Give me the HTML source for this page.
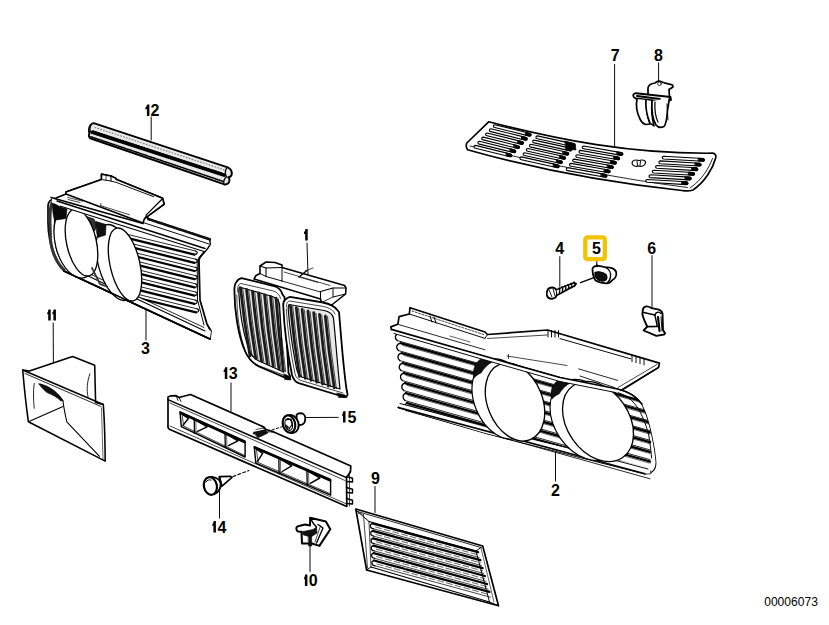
<!DOCTYPE html>
<html><head><meta charset="utf-8"><style>
html,body{margin:0;padding:0;background:#fff;width:829px;height:625px;overflow:hidden}
svg{display:block}
text{font-family:"Liberation Sans",sans-serif}
</style></head><body>
<svg width="829" height="625" viewBox="0 0 829 625" stroke="#000" fill="none" stroke-linecap="round" stroke-linejoin="round">
<path d="M149.40,104.50 L149.40,116.10 L146.90,116.10 L146.90,108.80 C146.40,109.20 146.00,109.50 145.40,109.50 L145.40,107.50 C146.40,107.10 146.70,105.90 147.20,104.50 Z" fill="#000" stroke="none"/>
<text x="150.55" y="116.05" font-size="16" font-weight="bold" stroke="none" fill="#000">2</text>
<line x1="151.2" y1="117.0" x2="151.2" y2="140.0" stroke-width="0.96" />
<text x="141" y="353.95" font-size="16" font-weight="bold" stroke="none" fill="#000">3</text>
<line x1="146.0" y1="309.0" x2="146.0" y2="340.0" stroke-width="0.96" />
<path d="M50.70,309.40 L50.70,320.60 L48.20,320.60 L48.20,313.70 C47.70,314.10 47.90,314.40 47.30,314.40 L47.30,312.40 C48.30,312.00 48.00,310.80 48.50,309.40 Z" fill="#000" stroke="none"/>
<path d="M55.90,309.40 L55.90,320.60 L53.40,320.60 L53.40,313.70 C52.90,314.10 53.00,314.40 52.40,314.40 L52.40,312.40 C53.40,312.00 53.20,310.80 53.70,309.40 Z" fill="#000" stroke="none"/>
<line x1="53.2" y1="323.0" x2="53.4" y2="362.0" stroke-width="0.96" />
<path d="M307.70,229.10 L307.70,240.50 L305.20,240.50 L305.20,233.40 C304.70,233.80 304.60,234.10 304.00,234.10 L304.00,232.10 C305.00,231.70 305.00,230.50 305.50,229.10 Z" fill="#000" stroke="none"/>
<line x1="307.0" y1="243.0" x2="308.0" y2="274.0" stroke-width="0.96" />
<path d="M227.30,367.30 L227.30,378.90 L224.80,378.90 L224.80,371.60 C224.30,372.00 224.30,372.30 223.70,372.30 L223.70,370.30 C224.70,369.90 224.60,368.70 225.10,367.30 Z" fill="#000" stroke="none"/>
<text x="228.75" y="378.9" font-size="16" font-weight="bold" stroke="none" fill="#000">3</text>
<line x1="231.0" y1="383.0" x2="231.0" y2="411.0" stroke-width="0.96" />
<path d="M345.50,411.20 L345.50,422.50 L343.00,422.50 L343.00,415.50 C342.50,415.90 342.80,416.20 342.20,416.20 L342.20,414.20 C343.20,413.80 342.80,412.60 343.30,411.20 Z" fill="#000" stroke="none"/>
<text x="347.4" y="422.7" font-size="16" font-weight="bold" stroke="none" fill="#000">5</text>
<line x1="302.5" y1="417.5" x2="338.2" y2="417.4" stroke-width="0.96" />
<path d="M215.90,521.10 L215.90,532.50 L213.40,532.50 L213.40,525.40 C212.90,525.80 213.00,526.10 212.40,526.10 L212.40,524.10 C213.40,523.70 213.20,522.50 213.70,521.10 Z" fill="#000" stroke="none"/>
<text x="217.45" y="532.6" font-size="16" font-weight="bold" stroke="none" fill="#000">4</text>
<line x1="219.5" y1="491.5" x2="219.5" y2="518.0" stroke-width="0.96" />
<path d="M307.40,574.50 L307.40,586.00 L304.90,586.00 L304.90,578.80 C304.40,579.20 304.70,579.50 304.10,579.50 L304.10,577.50 C305.10,577.10 304.70,575.90 305.20,574.50 Z" fill="#000" stroke="none"/>
<text x="308.7" y="586" font-size="16" font-weight="bold" stroke="none" fill="#000">0</text>
<line x1="310.0" y1="544.0" x2="310.0" y2="571.5" stroke-width="0.96" />
<text x="371" y="484.05" font-size="16" font-weight="bold" stroke="none" fill="#000">9</text>
<line x1="375.0" y1="486.5" x2="375.0" y2="512.5" stroke-width="0.96" />
<text x="551" y="495.65" font-size="16" font-weight="bold" stroke="none" fill="#000">2</text>
<line x1="555.5" y1="451.0" x2="555.5" y2="481.0" stroke-width="0.96" />
<text x="610.75" y="61.2" font-size="16" font-weight="bold" stroke="none" fill="#000">7</text>
<line x1="614.6" y1="64.4" x2="614.6" y2="147.5" stroke-width="0.96" />
<text x="654.1" y="61.2" font-size="16" font-weight="bold" stroke="none" fill="#000">8</text>
<line x1="658.6" y1="62.8" x2="658.6" y2="82.3" stroke-width="0.96" />
<text x="555.3" y="254.3" font-size="16" font-weight="bold" stroke="none" fill="#000">4</text>
<line x1="559.8" y1="256.7" x2="559.8" y2="286.5" stroke-width="0.96" />
<text x="647.35" y="254.3" font-size="16" font-weight="bold" stroke="none" fill="#000">6</text>
<line x1="652.0" y1="255.7" x2="652.0" y2="307.6" stroke-width="0.96" />
<rect x="585.3" y="237.3" width="19.5" height="21.8" rx="2.2" fill="none" stroke="#f3c300" stroke-width="4.3"/>
<text x="592.1" y="254.35" font-size="16" font-weight="bold" stroke="none" fill="#000">5</text>
<line x1="596.8" y1="261.5" x2="596.8" y2="266.3" stroke-width="0.96" />
<text x="764.2" y="606.2" font-size="12.6" textLength="53.7" lengthAdjust="spacingAndGlyphs" stroke="none" fill="#000">00006073</text>
<path d="M93.7,123.2 L227.7,167.3 C231,168.5 232.5,172 231.5,175.2 C231,176.5 229.5,177.3 228.2,177.3 C230,178.5 230,182.5 227.5,183.8 C226.5,184.5 225,184.5 223.8,184.2 L90.8,138.5 C88.5,137.5 88.5,134.5 89.5,133.5 C88.6,131 88.8,127 90.5,125 C91.5,123.8 92.5,123.2 93.7,123.2 Z" stroke-width="1.92" fill="#e9e9e9" />
<line x1="92.5" y1="132.3" x2="224.0" y2="175.2" stroke-width="3.36" />
<line x1="93.0" y1="131.2" x2="224.0" y2="174.1" stroke-width="1.92" stroke-dasharray="1.2 1.6"/>
<line x1="95.0" y1="127.5" x2="226.0" y2="170.5" stroke-width="1.2" stroke="#888" stroke-dasharray="0.8 2.2"/>
<line x1="91.0" y1="136.8" x2="224.0" y2="181.7" stroke-width="1.56" stroke-dasharray="1.4 1.2"/>
<path d="M227.7,167.3 C225,169 224.5,174 226.5,176.8 C224.5,178.5 223.5,182 223.8,184.2" stroke-width="1.32" fill="none" />
<path d="M91.5,124.5 C89.5,127 89.5,131 91.5,133" stroke-width="1.08" fill="none" />
<path d="M56,198 L66,194 L66,192 L101.5,179.5 L101.5,174.2 L111,176 L116,178.4 L116,179.3 L162.6,198.2 L164.1,204.2 L147.5,216.3 L148.1,219 L209.7,239.3 L210.1,244.3 C206,252 200,255 199,260 L200,300 L207,324 L211,331 L210,339 L64,271 C54,258 48,240 48,222 L48,206 C48,201 51,199 56,198 Z" stroke-width="1.68" fill="#fff" />
<line x1="128.0" y1="234.5" x2="195.5" y2="251.0" stroke-width="0.84" />
<line x1="128.0" y1="238.1" x2="194.5" y2="254.6" stroke-width="2.28" />
<path d="M195.5,251.0 C198.0,251.5 198.0,254.5 194.5,254.6" stroke-width="1.2" fill="none" />
<line x1="128.0" y1="242.7" x2="195.5" y2="259.2" stroke-width="0.84" />
<line x1="128.0" y1="246.3" x2="194.5" y2="262.8" stroke-width="2.28" />
<path d="M195.5,259.2 C198.0,259.7 198.0,262.7 194.5,262.8" stroke-width="1.2" fill="none" />
<line x1="128.0" y1="250.9" x2="195.5" y2="267.4" stroke-width="0.84" />
<line x1="128.0" y1="254.5" x2="194.5" y2="271.0" stroke-width="2.28" />
<path d="M195.5,267.4 C198.0,267.9 198.0,270.9 194.5,271.0" stroke-width="1.2" fill="none" />
<line x1="128.0" y1="259.1" x2="195.5" y2="275.6" stroke-width="0.84" />
<line x1="128.0" y1="262.7" x2="194.5" y2="279.2" stroke-width="2.28" />
<path d="M195.5,275.6 C198.0,276.1 198.0,279.1 194.5,279.2" stroke-width="1.2" fill="none" />
<line x1="128.0" y1="267.3" x2="195.5" y2="283.8" stroke-width="0.84" />
<line x1="128.0" y1="270.9" x2="194.5" y2="287.4" stroke-width="2.28" />
<path d="M195.5,283.8 C198.0,284.3 198.0,287.3 194.5,287.4" stroke-width="1.2" fill="none" />
<line x1="128.0" y1="275.5" x2="195.5" y2="292.0" stroke-width="0.84" />
<line x1="128.0" y1="279.1" x2="194.5" y2="295.6" stroke-width="2.28" />
<path d="M195.5,292.0 C198.0,292.5 198.0,295.5 194.5,295.6" stroke-width="1.2" fill="none" />
<line x1="128.0" y1="283.7" x2="195.5" y2="300.2" stroke-width="0.84" />
<line x1="128.0" y1="287.3" x2="194.5" y2="303.8" stroke-width="2.28" />
<path d="M195.5,300.2 C198.0,300.7 198.0,303.7 194.5,303.8" stroke-width="1.2" fill="none" />
<line x1="128.0" y1="291.9" x2="197.0" y2="308.8" stroke-width="0.84" />
<line x1="128.0" y1="295.5" x2="196.0" y2="312.4" stroke-width="2.28" />
<path d="M197.0,308.8 C199.5,309.3 199.5,312.3 196.0,312.4" stroke-width="1.2" fill="none" />
<path d="M199,258 L199,300 L206,324 L211,331 L220,331 L220,250 Z" stroke-width="0.0" fill="#fff" stroke="none"/>
<path d="M209.7,244.3 C206,252 200,255 199,260 L200,300 L207,324 L211,331" stroke-width="1.68" fill="none" />
<path d="M205,251 C201,255 197.5,258 197.2,262 L197.5,300 L204,325" stroke-width="0.96" fill="none" />
<path d="M64,271 L210,339 L211,331 L204,327 L70,266.5 Z" stroke-width="0.0" fill="#fff" stroke="none"/>
<line x1="64.0" y1="271.0" x2="210.0" y2="339.0" stroke-width="1.68" />
<line x1="69.0" y1="267.0" x2="205.0" y2="331.0" stroke-width="1.08" />
<line x1="90.0" y1="274.0" x2="204.0" y2="327.5" stroke-width="0.84" />
<path d="M52,203 C50.5,206 50,212 50,222 L50.5,240 C52,252 56,262 64,270" stroke-width="3.12" fill="none" stroke="#333" stroke-dasharray="1.6 1.4"/>
<path d="M54.5,219.5 C54,226 54,236 55.5,245 C57,254 61,262 68,269" stroke-width="0.96" fill="none" />
<ellipse cx="116.00" cy="262.50" rx="39.06" ry="17.83" transform="rotate(74.89 116.00 262.50)" stroke-width="1.32" fill="#fff" />
<polygon points="85.0,216.0 94.0,219.0 97.0,226.0 94.5,231.0 90.0,224.0" stroke-width="0.6" fill="#333" />
<polygon points="96.0,221.5 106.0,224.5 105.5,235.0 98.0,237.5 96.5,232.0" stroke-width="0.6" fill="#111" />
<ellipse cx="125.00" cy="264.50" rx="37.30" ry="14.84" transform="rotate(77.06 125.00 264.50)" stroke-width="1.32" fill="#fff" />
<ellipse cx="75.50" cy="242.00" rx="36.72" ry="20.24" transform="rotate(76.30 75.50 242.00)" stroke-width="1.2" fill="#fff" />
<path d="M52.5,204.5 C54,202.8 57,202.4 60,203 L67.5,206.5 C66.8,210 66.3,214 66.2,218.5 L54.5,220.2 C53,215 52.5,210 52.5,204.5 Z" stroke-width="0.6" fill="#0a0a0a" />
<ellipse cx="81.50" cy="242.50" rx="34.16" ry="14.86" transform="rotate(77.43 81.50 242.50)" stroke-width="1.32" fill="#fff" />
<path d="M92,268 L100,284 L108,287" stroke-width="1.92" fill="none" stroke="#333" stroke-dasharray="1.5 1.5"/>
<line x1="64.0" y1="271.0" x2="210.0" y2="339.0" stroke-width="1.68" />
<path d="M52,197.5 L143,223 L148.1,219 L208.8,239.3 L209.7,244.3 L205,251 L140,232 L60,206.5 C57,205 55,203 52,202.5 Z" stroke-width="0.0" fill="#fff" stroke="none"/>
<line x1="51.0" y1="197.4" x2="143.0" y2="223.5" stroke-width="1.56" />
<line x1="57.0" y1="201.0" x2="205.0" y2="248.5" stroke-width="1.44" />
<line x1="60.0" y1="206.0" x2="204.0" y2="251.5" stroke-width="1.08" />
<line x1="141.8" y1="222.1" x2="208.8" y2="243.9" stroke-width="0.96" />
<line x1="148.1" y1="219.0" x2="209.7" y2="239.3" stroke-width="2.64" stroke="#111" stroke-dasharray="2 0.7"/>
<line x1="99.0" y1="206.0" x2="120.0" y2="213.0" stroke-width="0.72" />
<line x1="98.0" y1="203.0" x2="98.0" y2="206.0" stroke-width="0.72" />
<path d="M66,194 L66,192 L101.5,179.5 L101.5,174.2 L111,176 L116,178.4 L116,179.3 L162.6,198.2 L164.1,204.2 L147.5,216.3 L144.5,218.5 L143,223 Z" stroke-width="1.56" fill="#fff" />
<polyline points="101.5,179.5 110.5,181.0 116.0,182.3 153.6,196.7" stroke-width="0.96" fill="none" />
<line x1="111.0" y1="176.0" x2="111.0" y2="181.0" stroke-width="1.08" />
<line x1="106.0" y1="175.2" x2="106.0" y2="180.2" stroke-width="0.72" />
<polyline points="161.7,199.5 146.3,214.9 145.4,218.5" stroke-width="1.2" fill="none" />
<line x1="67.6" y1="197.4" x2="82.7" y2="201.2" stroke-width="0.72" />
<line x1="68.0" y1="199.5" x2="80.0" y2="202.5" stroke-width="0.72" />
<line x1="100.8" y1="205.7" x2="129.4" y2="214.8" stroke-width="0.72" />
<line x1="100.8" y1="203.5" x2="100.8" y2="206.0" stroke-width="0.72" />
<line x1="68.0" y1="191.0" x2="78.0" y2="187.5" stroke-width="0.6" />
<path d="M22.7,370 L29.4,370.9 L72.6,356.5 L94.7,365.2 L95.6,402.6 L103.3,404.5 C104.5,420 105,440 105.2,461.1 L28.4,421.8 C26,405 24,385 22.7,370 Z" stroke-width="1.56" fill="#fff" />
<line x1="22.7" y1="370.0" x2="103.3" y2="404.5" stroke-width="1.44" />
<line x1="25.0" y1="373.5" x2="101.0" y2="406.5" stroke-width="0.84" />
<line x1="28.4" y1="421.8" x2="63.0" y2="406.4" stroke-width="1.08" />
<path d="M34.2,383.4 C33,392 33.5,400 34.2,408.3" stroke-width="0.84" fill="none" />
<path d="M40,384 C50,388 58,393 63,400.7 C64,410 66,418 66.8,421.8 L99.5,456.3" stroke-width="1.08" fill="none" />
<path d="M39,384 C47,385 56,390 63,400.5 L61,401 C57,397 52,394.5 47,392.5 C44,390 41,387 39,384 Z" stroke-width="0.72" fill="#111" />
<path d="M89.9,373.8 C87,382 86.5,390 88,396.8" stroke-width="0.84" fill="none" />
<line x1="101.5" y1="408.0" x2="103.0" y2="459.0" stroke-width="0.6" />
<path d="M254,279 L256,275.5 L260,273.5 L260,266 L266,262 L275,262.5 L282,265 L282,267.5 L344.6,285.5 L346,288 L345.6,294 L331,305.5 L321.5,302.5 L320.5,299 Z" stroke-width="1.56" fill="#fff" />
<polyline points="260.0,266.0 266.0,268.0 282.0,267.5" stroke-width="1.08" fill="none" />
<polyline points="266.0,268.0 266.0,276.5" stroke-width="1.08" fill="none" />
<polyline points="260.0,273.5 266.0,276.5 282.0,281.0" stroke-width="0.96" fill="none" />
<line x1="282.0" y1="267.5" x2="282.0" y2="281.0" stroke-width="0.96" />
<line x1="282.0" y1="281.0" x2="320.5" y2="292.0" stroke-width="0.84" />
<line x1="284.0" y1="272.0" x2="330.0" y2="285.5" stroke-width="0.72" />
<polyline points="320.5,299.0 320.5,291.5 333.0,288.0 346.0,288.0" stroke-width="1.08" fill="none" />
<polyline points="333.0,288.0 333.0,297.0 345.6,294.0" stroke-width="0.96" fill="none" />
<polyline points="321.5,302.5 333.0,297.0" stroke-width="0.84" fill="none" />
<line x1="299.0" y1="277.0" x2="307.0" y2="270.5" stroke-width="1.2" />
<line x1="299.0" y1="277.0" x2="318.0" y2="282.5" stroke-width="0.72" />
<line x1="305.0" y1="271.0" x2="313.0" y2="268.0" stroke-width="0.72" />
<path d="M236.4,282 C238,279.5 239.5,278.5 241.6,278.2 L274,286 C278.5,287.5 281.5,290.5 282.5,294.5 L284.5,297 L288.5,373 C290.5,376 291,378.5 288,378.8 L259,366.5 C252,363 248.5,359 245,351 C238,335 234.4,310 234.4,290 C234.4,286 235,283.5 236.4,282 Z" stroke-width="1.8" fill="#fff" />
<path d="M239.5,287 L272.5,296.5 C276.5,298 279,300.5 279.5,304 L283.5,372 L258,360.5 C252.5,357.5 250,353 248,347 C242.5,330 239.5,310 238.8,292 C238.8,289.5 239,288 239.5,287 Z" stroke-width="1.2" fill="#e8e8e8" />
<path d="M240.5,287.8 Q244.1,321.9 250.0,356.0" stroke-width="2.76" fill="none" stroke="#1a1a1a"/>
<path d="M242.7,288.4 Q246.2,321.9 252.2,356.8" stroke-width="0.72" fill="none" />
<path d="M246.5,289.5 Q250.0,324.1 255.8,358.6" stroke-width="2.76" fill="none" stroke="#1a1a1a"/>
<path d="M248.7,290.1 Q252.2,324.1 258.0,359.4" stroke-width="0.72" fill="none" />
<path d="M252.5,291.3 Q255.9,326.2 261.6,361.2" stroke-width="2.76" fill="none" stroke="#1a1a1a"/>
<path d="M254.7,291.9 Q258.1,326.2 263.8,362.0" stroke-width="0.72" fill="none" />
<path d="M258.5,293.0 Q261.8,328.4 267.4,363.8" stroke-width="2.76" fill="none" stroke="#1a1a1a"/>
<path d="M260.7,293.6 Q263.9,328.4 269.6,364.6" stroke-width="0.72" fill="none" />
<path d="M264.5,294.8 Q267.7,330.6 273.2,366.4" stroke-width="2.76" fill="none" stroke="#1a1a1a"/>
<path d="M266.7,295.4 Q269.9,330.6 275.4,367.2" stroke-width="0.72" fill="none" />
<path d="M270.5,296.5 Q273.6,332.8 279.0,369.1" stroke-width="2.76" fill="none" stroke="#1a1a1a"/>
<path d="M272.7,297.1 Q275.8,332.8 281.2,369.9" stroke-width="0.72" fill="none" />
<path d="M276.0,298.1 Q278.6,334.6 283.5,371.1" stroke-width="2.76" fill="none" stroke="#1a1a1a"/>
<path d="M278.2,298.7 Q280.8,334.6 285.7,371.9" stroke-width="0.72" fill="none" />
<path d="M285.3,299.7 C287,298 288,297 290,296.8 L323,302.5 C330,304 335,307 337.3,310 L339,312 C341,335 343,365 346.5,389 C347.5,394 349,396.5 344.2,397 L298.7,383.2 C294.5,381.5 293,378.5 292,375 C287,350 284,325 283.2,305 C283.2,302 284,300.5 285.3,299.7 Z" stroke-width="1.8" fill="#fff" />
<path d="M289,304.5 L324,310.5 C330,311.5 332.5,314 333.5,318 C336,343 337.5,366 340,389 L302,377 C298.5,375.5 297.5,372.5 296.5,368.5 C292.5,348 289.5,328 288.2,308.5 C288.2,306.5 288.5,305.2 289,304.5 Z" stroke-width="1.2" fill="#e8e8e8" />
<path d="M290.5,305.9 Q293.8,341.2 299.5,376.5" stroke-width="2.76" fill="none" stroke="#1a1a1a"/>
<path d="M292.7,306.5 Q296.0,341.2 301.7,377.3" stroke-width="0.72" fill="none" />
<path d="M296.3,307.6 Q299.6,343.0 305.3,378.4" stroke-width="2.76" fill="none" stroke="#1a1a1a"/>
<path d="M298.5,308.2 Q301.8,343.0 307.5,379.2" stroke-width="0.72" fill="none" />
<path d="M302.1,309.3 Q305.4,344.8 311.0,380.3" stroke-width="2.76" fill="none" stroke="#1a1a1a"/>
<path d="M304.3,309.9 Q307.6,344.8 313.2,381.1" stroke-width="0.72" fill="none" />
<path d="M307.9,311.0 Q311.2,346.6 316.8,382.2" stroke-width="2.76" fill="none" stroke="#1a1a1a"/>
<path d="M310.1,311.6 Q313.4,346.6 319.0,383.0" stroke-width="0.72" fill="none" />
<path d="M313.7,312.7 Q316.9,348.4 322.6,384.1" stroke-width="2.76" fill="none" stroke="#1a1a1a"/>
<path d="M315.9,313.3 Q319.1,348.4 324.8,384.9" stroke-width="0.72" fill="none" />
<path d="M319.5,314.3 Q322.8,350.2 328.4,386.0" stroke-width="2.76" fill="none" stroke="#1a1a1a"/>
<path d="M321.7,314.9 Q324.9,350.2 330.6,386.8" stroke-width="0.72" fill="none" />
<path d="M325.3,316.0 Q328.6,352.0 334.2,387.9" stroke-width="2.76" fill="none" stroke="#1a1a1a"/>
<path d="M327.5,316.6 Q330.8,352.0 336.4,388.7" stroke-width="0.72" fill="none" />
<path d="M237.6,292 C237.2,287 238.5,284 241,283.5 L273.5,291 C277.5,292.5 279.8,295 280.5,298.5" stroke-width="0.72" fill="none" />
<path d="M236.8,295 C237,315 239.5,335 245.5,352 C248.5,359 252,362.5 258.5,365.5 L286,376" stroke-width="0.72" fill="none" />
<path d="M286.5,307 C286.3,303 287.5,301.5 289.8,301 L323.5,306.5 C330,308 333.5,310.5 335,314" stroke-width="0.72" fill="none" />
<path d="M286.3,309 C287.5,330 290.5,352 295,374 C296,377.5 298,379.5 301,380.5 L343,393" stroke-width="0.72" fill="none" />
<polygon points="284.0,374.0 290.0,376.5 291.0,380.0 285.0,379.5" stroke-width="0.6" fill="#000" />
<polygon points="337.0,393.0 345.0,395.0 347.0,397.5 339.0,397.5" stroke-width="0.6" fill="#000" />
<path d="M168,397 L171,395.8 L176,395.6 L179,397.5 L190.5,394.5 L262,426.2 L266,429.5 L273.8,431.9 L350.8,466 L350.5,471.8 L346.5,477.6 L346.8,506.4 L169.3,429.3 L168,427.5 Z" stroke-width="1.68" fill="#fff" />
<line x1="168.0" y1="399.6" x2="346.5" y2="477.6" stroke-width="1.56" />
<line x1="170.0" y1="403.0" x2="345.0" y2="480.5" stroke-width="0.72" />
<line x1="176.0" y1="395.6" x2="178.0" y2="400.5" stroke-width="0.84" />
<line x1="179.0" y1="397.5" x2="181.0" y2="401.5" stroke-width="0.84" />
<line x1="170.0" y1="426.0" x2="345.5" y2="503.5" stroke-width="0.72" />
<path d="M262,426.2 C265,427 266,429 265.3,429.8 L253.3,433.7" stroke-width="1.2" fill="none" />
<line x1="256.0" y1="429.5" x2="263.5" y2="428.0" stroke-width="0.72" />
<polygon points="253.5,432.2 265.5,430.0 268.0,433.0 258.0,437.8" stroke-width="0.6" fill="#111" />
<line x1="268.0" y1="432.0" x2="276.0" y2="432.5" stroke-width="0.72" stroke-dasharray="1.5 1.5"/>
<polygon points="180.0,411.8 245.1,441.2 245.1,457.0 181.3,426.7" stroke-width="1.44" fill="#fff" />
<line x1="180.5" y1="412.8" x2="244.6" y2="442.2" stroke-width="2.4" />
<line x1="181.8" y1="425.2" x2="244.6" y2="455.4" stroke-width="0.72" />
<line x1="182.0" y1="413.8" x2="183.5" y2="425.2" stroke-width="0.72" />
<line x1="194.2" y1="418.2" x2="194.5" y2="433.3" stroke-width="1.32" />
<line x1="195.8" y1="419.0" x2="196.1" y2="433.3" stroke-width="0.6" />
<line x1="225.0" y1="432.1" x2="225.3" y2="447.6" stroke-width="1.32" />
<line x1="226.6" y1="432.9" x2="226.9" y2="447.6" stroke-width="0.6" />
<polyline points="182.4,414.3 188.4,418.5 183.4,424.7" stroke-width="1.44" fill="none" />
<polyline points="196.6,420.7 207.1,426.9 197.6,431.3" stroke-width="1.44" fill="none" />
<polyline points="227.4,434.6 237.9,440.8 228.4,445.6" stroke-width="1.44" fill="none" />
<polygon points="254.3,446.6 330.6,479.5 330.6,495.2 255.8,463.2" stroke-width="1.44" fill="#fff" />
<line x1="254.8" y1="447.6" x2="330.1" y2="480.5" stroke-width="2.4" />
<line x1="256.3" y1="461.7" x2="330.1" y2="493.6" stroke-width="0.72" />
<line x1="256.3" y1="448.6" x2="258.0" y2="461.7" stroke-width="0.72" />
<line x1="278.8" y1="457.2" x2="279.1" y2="473.5" stroke-width="1.32" />
<line x1="280.4" y1="458.0" x2="280.7" y2="473.5" stroke-width="0.6" />
<line x1="306.9" y1="469.3" x2="307.2" y2="485.3" stroke-width="1.32" />
<line x1="308.5" y1="470.1" x2="308.8" y2="485.3" stroke-width="0.6" />
<polyline points="256.7,449.1 262.7,453.3 257.7,461.2" stroke-width="1.44" fill="none" />
<polyline points="281.2,459.7 291.7,465.9 282.2,471.5" stroke-width="1.44" fill="none" />
<polyline points="309.3,471.8 319.8,478.0 310.3,483.3" stroke-width="1.44" fill="none" />
<polyline points="346.5,476.5 352.5,478.3 352.5,482.0 346.5,481.5" stroke-width="1.44" fill="none" />
<polyline points="346.5,487.5 352.5,489.3 352.5,493.0 346.5,492.5" stroke-width="1.44" fill="none" />
<polyline points="346.5,498.5 352.5,500.3 352.5,504.0 346.5,503.5" stroke-width="1.44" fill="none" />
<line x1="349.5" y1="471.5" x2="349.5" y2="506.0" stroke-width="0.72" />
<path d="M296.5,415 C297.5,413.5 300,413 302.5,413.5 C304.5,414.5 305.5,417 305.2,419.5 C305,422.5 303.5,424.5 301,424.8 L297,425 Z" stroke-width="1.8" fill="#fff" />
<ellipse cx="291.50" cy="424.00" rx="9.05" ry="7.01" transform="rotate(73.48 291.50 424.00)" stroke-width="1.92" fill="#fff" />
<ellipse cx="289.00" cy="424.00" rx="8.81" ry="6.14" transform="rotate(77.10 289.00 424.00)" stroke-width="2.16" fill="#fff" />
<ellipse cx="288.70" cy="424.50" rx="5.94" ry="3.58" transform="rotate(74.43 288.70 424.50)" stroke-width="1.2" fill="#fff" />
<path d="M286,420 L291,419 L292.5,424 L289,429" stroke-width="1.2" fill="none" />
<polygon points="286.5,425.0 289.0,427.5 287.0,429.5 285.5,427.0" stroke-width="0.6" fill="#222" />
<line x1="283.0" y1="426.5" x2="262.0" y2="433.0" stroke-width="0.96" stroke-dasharray="2.5 2"/>
<path d="M212,476.8 C216,477.5 220,479.5 220.6,483 C221,487 219.5,492 214,494.3 Z" stroke-width="1.8" fill="#fff" />
<ellipse cx="210.40" cy="486.00" rx="8.88" ry="6.49" transform="rotate(78.72 210.40 486.00)" stroke-width="2.16" fill="#fff" />
<path d="M219.3,476.6 L230.2,476.3 L232,477.3 L221.7,486.3 Z" stroke-width="1.68" fill="#fff" />
<line x1="219.5" y1="477.0" x2="221.7" y2="486.0" stroke-width="1.8" />
<path d="M206,482 C207,480 209,479.5 211,480" stroke-width="0.96" fill="none" />
<line x1="233.0" y1="476.4" x2="249.0" y2="470.6" stroke-width="1.08" stroke-dasharray="3 2.2"/>
<path d="M296.4,529.2 C296,527 297.5,526 300,525.8 L305,524.5 L310,525.5 L310.2,517.7 L325.9,521.5 L330.3,529.2 L319.4,545.9 L312,543.5 L302,543.5 L301.5,531.8 L298,531.5 C297,531 296.5,530 296.4,529.2 Z" stroke-width="2.04" fill="#fff" />
<polygon points="302.0,531.8 313.0,529.5 316.5,527.0 317.0,533.0 311.0,537.0 303.5,535.0" stroke-width="0.6" fill="#111" />
<polygon points="308.5,536.0 311.5,535.0 311.8,546.0 308.8,546.0" stroke-width="0.6" fill="#111" />
<path d="M310.2,517.7 L313,523 L316.5,527" stroke-width="1.44" fill="none" />
<path d="M318,524.5 L323,528 L316.5,543" stroke-width="1.32" fill="none" />
<line x1="320.5" y1="526.0" x2="315.0" y2="542.0" stroke-width="0.72" />
<polygon points="355.8,509.0 482.7,546.0 498.5,605.7 366.6,570.0" stroke-width="1.68" fill="#fff" />
<line x1="357.5" y1="511.5" x2="481.0" y2="547.5" stroke-width="0.84" />
<line x1="369.0" y1="521.5" x2="476.0" y2="551.0" stroke-width="1.08" />
<line x1="357.5" y1="511.5" x2="369.0" y2="521.5" stroke-width="0.96" />
<line x1="358.0" y1="513.0" x2="363.5" y2="514.5" stroke-width="0.6" />
<line x1="363.5" y1="514.5" x2="367.5" y2="568.0" stroke-width="0.72" />
<line x1="369.0" y1="521.5" x2="371.0" y2="567.0" stroke-width="0.72" />
<line x1="481.0" y1="547.5" x2="476.0" y2="551.0" stroke-width="0.96" />
<line x1="476.0" y1="551.0" x2="489.5" y2="602.0" stroke-width="0.96" />
<line x1="481.0" y1="548.0" x2="494.0" y2="602.0" stroke-width="0.6" />
<line x1="366.6" y1="570.0" x2="371.0" y2="567.0" stroke-width="0.96" />
<line x1="371.0" y1="567.0" x2="489.5" y2="602.0" stroke-width="1.08" />
<line x1="489.5" y1="602.0" x2="498.5" y2="605.7" stroke-width="0.96" />
<line x1="372.5" y1="523.5" x2="478.1" y2="552.2" stroke-width="2.28" stroke-dasharray="22 1.5 8 2 30 1.5 60"/>
<line x1="373.5" y1="528.8" x2="479.1" y2="557.5" stroke-width="0.72" />
<line x1="375.5" y1="527.0" x2="478.1" y2="554.9" stroke-width="0.6" stroke-dasharray="6 3"/>
<path d="M372.5,523.5 C369.5,524.0 369.5,528.3 373.5,528.8" stroke-width="1.2" fill="none" />
<line x1="372.8" y1="530.9" x2="480.4" y2="560.2" stroke-width="2.28" stroke-dasharray="22 1.5 8 2 30 1.5 60"/>
<line x1="373.8" y1="536.2" x2="481.4" y2="565.5" stroke-width="0.72" />
<line x1="375.8" y1="534.4" x2="480.4" y2="562.8" stroke-width="0.6" stroke-dasharray="6 3"/>
<path d="M372.8,530.9 C369.8,531.4 369.8,535.7 373.8,536.2" stroke-width="1.2" fill="none" />
<line x1="373.1" y1="538.3" x2="482.6" y2="568.1" stroke-width="2.28" stroke-dasharray="22 1.5 8 2 30 1.5 60"/>
<line x1="374.1" y1="543.6" x2="483.6" y2="573.4" stroke-width="0.72" />
<line x1="376.1" y1="541.8" x2="482.6" y2="570.8" stroke-width="0.6" stroke-dasharray="6 3"/>
<path d="M373.1,538.3 C370.1,538.8 370.1,543.1 374.1,543.6" stroke-width="1.2" fill="none" />
<line x1="373.4" y1="545.7" x2="484.9" y2="576.0" stroke-width="2.28" stroke-dasharray="22 1.5 8 2 30 1.5 60"/>
<line x1="374.4" y1="551.0" x2="485.9" y2="581.3" stroke-width="0.72" />
<line x1="376.4" y1="549.2" x2="484.9" y2="578.7" stroke-width="0.6" stroke-dasharray="6 3"/>
<path d="M373.4,545.7 C370.4,546.2 370.4,550.5 374.4,551.0" stroke-width="1.2" fill="none" />
<line x1="373.7" y1="553.1" x2="487.1" y2="584.0" stroke-width="2.28" stroke-dasharray="22 1.5 8 2 30 1.5 60"/>
<line x1="374.7" y1="558.4" x2="488.1" y2="589.3" stroke-width="0.72" />
<line x1="376.7" y1="556.6" x2="487.1" y2="586.6" stroke-width="0.6" stroke-dasharray="6 3"/>
<path d="M373.7,553.1 C370.7,553.6 370.7,557.9 374.7,558.4" stroke-width="1.2" fill="none" />
<line x1="374.0" y1="560.5" x2="489.4" y2="591.9" stroke-width="2.28" stroke-dasharray="22 1.5 8 2 30 1.5 60"/>
<line x1="375.0" y1="565.8" x2="490.4" y2="597.2" stroke-width="0.72" />
<line x1="377.0" y1="564.0" x2="489.4" y2="594.6" stroke-width="0.6" stroke-dasharray="6 3"/>
<path d="M374.0,560.5 C371.0,561.0 371.0,565.3 375.0,565.8" stroke-width="1.2" fill="none" />
<path d="M410,307.7 L485,332 L487.5,334.5 L547.5,330 L659.4,363.1 L658.6,367.4 L622,390 C630,392 637,396 642,404 C648,415 652,432 655,450 L656.4,462 C656.5,468 655,471.4 650,473.5 L645,473.7 L485,433 L398.4,407.4 L394,338 L391.4,329.4 L390.8,326.9 L397.8,324.3 L399.1,316.6 L409.3,314 Z" stroke-width="0.0" fill="#fff" stroke="none"/>
<path d="M398.4,407.4 L485,433 L645,473.7 L650,473.5 C655,471.4 656.5,468 656.4,462 L655,450 C652,432 648,415 642,404 C637,396 630,392 622,390 L658.6,367.4 L659.4,363.1 L547.5,330 L487.5,334.5 L485,332 L410,307.7 L409.3,314 L399.1,316.6 L397.8,324.3 L390.8,326.9 L391.4,329.4" stroke-width="1.68" fill="none" />
<line x1="399.6" y1="333.2" x2="650.0" y2="403.3" stroke-width="2.28" />
<line x1="397.2" y1="340.6" x2="650.0" y2="411.4" stroke-width="0.84" />
<path d="M399.6,333.2 C394.6,334.2 394.3,338.3 397.2,340.6" stroke-width="1.32" fill="none" />
<line x1="401.6" y1="335.4" x2="650.0" y2="405.0" stroke-width="0.6" />
<line x1="400.7" y1="343.2" x2="650.0" y2="413.0" stroke-width="2.28" />
<line x1="398.5" y1="350.6" x2="650.0" y2="421.0" stroke-width="0.84" />
<path d="M400.7,343.2 C395.9,344.2 395.6,348.3 398.5,350.6" stroke-width="1.32" fill="none" />
<line x1="402.7" y1="345.4" x2="650.0" y2="414.7" stroke-width="0.6" />
<line x1="401.7" y1="353.2" x2="650.0" y2="422.7" stroke-width="2.28" />
<line x1="399.8" y1="360.6" x2="650.0" y2="430.7" stroke-width="0.84" />
<path d="M401.7,353.2 C397.2,354.2 396.9,358.3 399.8,360.6" stroke-width="1.32" fill="none" />
<line x1="403.7" y1="355.4" x2="650.0" y2="424.4" stroke-width="0.6" />
<line x1="402.8" y1="363.2" x2="650.0" y2="432.4" stroke-width="2.28" />
<line x1="401.1" y1="370.6" x2="650.0" y2="440.3" stroke-width="0.84" />
<path d="M402.8,363.2 C398.5,364.2 398.2,368.3 401.1,370.6" stroke-width="1.32" fill="none" />
<line x1="404.8" y1="365.4" x2="650.0" y2="434.1" stroke-width="0.6" />
<line x1="403.8" y1="373.2" x2="650.0" y2="442.1" stroke-width="2.28" />
<line x1="402.4" y1="380.6" x2="650.0" y2="449.9" stroke-width="0.84" />
<path d="M403.8,373.2 C399.8,374.2 399.5,378.3 402.4,380.6" stroke-width="1.32" fill="none" />
<line x1="405.8" y1="375.4" x2="650.0" y2="443.8" stroke-width="0.6" />
<line x1="404.9" y1="383.2" x2="650.0" y2="451.8" stroke-width="2.28" />
<line x1="403.7" y1="390.6" x2="650.0" y2="459.6" stroke-width="0.84" />
<path d="M404.9,383.2 C401.1,384.2 400.8,388.3 403.7,390.6" stroke-width="1.32" fill="none" />
<line x1="406.9" y1="385.4" x2="650.0" y2="453.5" stroke-width="0.6" />
<line x1="405.9" y1="393.2" x2="650.0" y2="461.5" stroke-width="2.28" />
<line x1="405.0" y1="400.6" x2="650.0" y2="469.2" stroke-width="0.84" />
<path d="M405.9,393.2 C402.4,394.2 402.1,398.3 405.0,400.6" stroke-width="1.32" fill="none" />
<line x1="407.9" y1="395.4" x2="650.0" y2="463.2" stroke-width="0.6" />
<line x1="407.0" y1="403.2" x2="650.0" y2="471.3" stroke-width="2.28" />
<line x1="406.3" y1="410.6" x2="650.0" y2="478.8" stroke-width="0.84" />
<path d="M407.0,403.2 C403.7,404.2 403.4,408.3 406.3,410.6" stroke-width="1.32" fill="none" />
<line x1="409.0" y1="405.4" x2="650.0" y2="472.9" stroke-width="0.6" />
<path d="M622,390 C630,392 637,396 642,404 C648,415 652,432 655,450 L656.4,462 C656.5,468 655,471.4 650,473.5 L700,480 L700,380 Z" stroke-width="0.0" fill="#fff" stroke="none"/>
<path d="M398.4,407.4 L485,433 L645,473.7 L650,473.5 L651,468 L485,428.5 L400,403.5 Z" stroke-width="0.0" fill="#fff" stroke="none"/>
<line x1="398.4" y1="407.4" x2="645.0" y2="473.7" stroke-width="1.56" />
<line x1="400.0" y1="403.5" x2="648.0" y2="469.0" stroke-width="0.96" />
<line x1="409.3" y1="314.0" x2="485.0" y2="338.4" stroke-width="0.96" />
<line x1="397.8" y1="324.3" x2="485.0" y2="349.8" stroke-width="0.84" />
<line x1="412.0" y1="311.0" x2="485.0" y2="335.0" stroke-width="0.72" stroke-dasharray="2 1.5"/>
<line x1="485.0" y1="338.4" x2="487.5" y2="334.5" stroke-width="0.96" />
<line x1="560.0" y1="338.6" x2="630.6" y2="358.8" stroke-width="0.96" />
<line x1="578.7" y1="368.9" x2="617.6" y2="380.4" stroke-width="0.84" />
<line x1="580.0" y1="376.0" x2="614.7" y2="387.6" stroke-width="0.84" />
<line x1="507.0" y1="356.0" x2="567.0" y2="365.5" stroke-width="0.72" />
<line x1="508.5" y1="354.5" x2="508.5" y2="358.5" stroke-width="0.72" />
<line x1="450.0" y1="336.0" x2="470.0" y2="342.0" stroke-width="0.6" />
<polyline points="658.6,367.4 620.5,390.5" stroke-width="1.2" fill="none" />
<polyline points="657.0,364.5 618.0,387.5" stroke-width="0.72" fill="none" />
<line x1="430.0" y1="316.0" x2="432.0" y2="322.0" stroke-width="0.96" />
<line x1="434.0" y1="317.0" x2="436.0" y2="323.0" stroke-width="0.96" />
<line x1="632.0" y1="355.5" x2="632.0" y2="361.5" stroke-width="0.96" />
<line x1="636.0" y1="356.6" x2="636.0" y2="362.6" stroke-width="0.96" />
<line x1="640.0" y1="357.7" x2="640.0" y2="363.7" stroke-width="0.96" />
<line x1="644.0" y1="358.9" x2="644.0" y2="364.9" stroke-width="0.96" />
<line x1="548.0" y1="330.5" x2="548.0" y2="337.0" stroke-width="0.96" />
<line x1="551.5" y1="330.5" x2="551.5" y2="337.0" stroke-width="0.96" />
<line x1="555.0" y1="330.5" x2="555.0" y2="337.0" stroke-width="0.96" />
<line x1="558.5" y1="330.5" x2="558.5" y2="337.0" stroke-width="0.96" />
<line x1="487.5" y1="338.5" x2="547.0" y2="335.0" stroke-width="0.72" />
<path d="M617.6,389 C628,391.5 637,397 642,404" stroke-width="1.56" fill="none" />
<path d="M618,392.6 C624,394.5 628,397 631.4,400.3 C636,405 639,409 641,413.8 C645,422 647.5,430 648.7,434.9 C650,443 651,450 651.6,458" stroke-width="0.96" fill="none" />
<ellipse cx="586.00" cy="420.00" rx="44.11" ry="31.47" transform="rotate(55.56 586.00 420.00)" stroke-width="1.2" fill="#fff" />
<ellipse cx="598.00" cy="421.50" rx="43.61" ry="30.96" transform="rotate(55.56 598.00 421.50)" stroke-width="1.32" fill="#fff" />
<ellipse cx="503.00" cy="399.00" rx="41.63" ry="28.78" transform="rotate(67.48 503.00 399.00)" stroke-width="1.2" fill="#fff" />
<ellipse cx="515.00" cy="402.00" rx="40.60" ry="27.48" transform="rotate(67.84 515.00 402.00)" stroke-width="1.32" fill="#fff" />
<path d="M473.5,372 C474,366 477,361 481,359 L493,361.5 C488,364 484,368 481,373 C478,374 476,376 474,378 Z" stroke-width="0.6" fill="#111" />
<path d="M551,393 C551.5,387 554.5,382 559,380 L571,382.5 C566,385 562,389 559,394 C556,395 554,397 552,399 Z" stroke-width="0.6" fill="#111" />
<path d="M391.4,329.4 L485,356.3 L560,377.5 L617.6,389 L616,392.6 L560,381.5 L485,360 L394,333.5 Z" stroke-width="0.0" fill="#fff" stroke="none"/>
<polyline points="391.4,329.4 485.0,356.3 560.0,377.5 617.6,389.0" stroke-width="1.68" fill="none" />
<polyline points="394.0,333.5 485.0,360.0 560.0,381.5 616.0,392.6" stroke-width="0.96" fill="none" />
<path d="M488.7,121.8 C560,140 630,154 712.9,153.2 C715.5,153.5 716.5,156 715.5,158.5 C713,168 705,182 693,190 C688,191.5 686,191 682,190.5 C640,186 560,176 467.6,149.7 C466,147.5 466,145 466.8,143 Z" stroke-width="1.68" fill="#fff" />
<path d="M470,146 C540,163 620,179 687.4,187.5" stroke-width="0.84" fill="none" />
<path d="M712.5,158.5 C709,168 702,180 690,188" stroke-width="0.84" fill="none" />
<path d="M494.8,124.7 L529.6,133.3 C531.6,133.5 531.6,136.1 529.6,136.1 L494.8,127.5 C492.8,127.3 492.8,124.7 494.8,124.7 Z" stroke-width="1.14" fill="#fff" />
<path d="M525.8,132.4 L529.6,133.3 C531.6,133.5 531.6,136.1 529.6,136.1 L525.8,135.2 Z" stroke-width="0.96" fill="#000" />
<path d="M490.9,128.8 L525.7,137.4 C527.7,137.6 527.7,140.2 525.7,140.2 L490.9,131.6 C488.9,131.4 488.9,128.8 490.9,128.8 Z" stroke-width="1.14" fill="#fff" />
<path d="M521.9,136.5 L525.7,137.4 C527.7,137.6 527.7,140.2 525.7,140.2 L521.9,139.3 Z" stroke-width="0.96" fill="#000" />
<path d="M487.1,133.0 L521.9,141.6 C523.9,141.8 523.9,144.4 521.9,144.4 L487.1,135.8 C485.1,135.6 485.1,133.0 487.1,133.0 Z" stroke-width="1.14" fill="#fff" />
<path d="M518.1,140.6 L521.9,141.6 C523.9,141.8 523.9,144.4 521.9,144.4 L518.1,143.4 Z" stroke-width="0.96" fill="#000" />
<path d="M483.2,137.1 L518.0,145.7 C520.0,145.9 520.0,148.5 518.0,148.5 L483.2,139.9 C481.2,139.7 481.2,137.1 483.2,137.1 Z" stroke-width="1.14" fill="#fff" />
<path d="M514.2,144.8 L518.0,145.7 C520.0,145.9 520.0,148.5 518.0,148.5 L514.2,147.6 Z" stroke-width="0.96" fill="#000" />
<path d="M479.4,141.3 L514.2,149.9 C516.2,150.1 516.2,152.7 514.2,152.7 L479.4,144.1 C477.4,143.9 477.4,141.3 479.4,141.3 Z" stroke-width="1.14" fill="#fff" />
<path d="M510.3,148.9 L514.2,149.9 C516.2,150.1 516.2,152.7 514.2,152.7 L510.3,151.7 Z" stroke-width="0.96" fill="#000" />
<path d="M475.5,145.4 L510.3,154.0 C512.3,154.2 512.3,156.8 510.3,156.8 L475.5,148.2 C473.5,148.0 473.5,145.4 475.5,145.4 Z" stroke-width="1.14" fill="#fff" />
<path d="M506.5,153.1 L510.3,154.0 C512.3,154.2 512.3,156.8 510.3,156.8 L506.5,155.9 Z" stroke-width="0.96" fill="#000" />
<path d="M537.4,135.9 L573.6,143.9 C575.6,144.1 575.6,146.7 573.6,146.7 L537.4,138.7 C535.4,138.5 535.4,135.9 537.4,135.9 Z" stroke-width="1.14" fill="#fff" />
<path d="M569.6,143.0 L573.6,143.9 C575.6,144.1 575.6,146.7 573.6,146.7 L569.6,145.8 Z" stroke-width="0.96" fill="#000" />
<path d="M534.2,140.1 L570.4,148.1 C572.4,148.3 572.4,150.9 570.4,150.9 L534.2,142.9 C532.2,142.7 532.2,140.1 534.2,140.1 Z" stroke-width="1.14" fill="#fff" />
<path d="M566.4,147.2 L570.4,148.1 C572.4,148.3 572.4,150.9 570.4,150.9 L566.4,150.0 Z" stroke-width="0.96" fill="#000" />
<path d="M531.0,144.3 L567.2,152.3 C569.2,152.5 569.2,155.1 567.2,155.1 L531.0,147.1 C529.0,146.9 529.0,144.3 531.0,144.3 Z" stroke-width="1.14" fill="#fff" />
<path d="M563.2,151.4 L567.2,152.3 C569.2,152.5 569.2,155.1 567.2,155.1 L563.2,154.2 Z" stroke-width="0.96" fill="#000" />
<path d="M527.8,148.5 L564.0,156.5 C566.0,156.7 566.0,159.3 564.0,159.3 L527.8,151.3 C525.8,151.1 525.8,148.5 527.8,148.5 Z" stroke-width="1.14" fill="#fff" />
<path d="M560.0,155.6 L564.0,156.5 C566.0,156.7 566.0,159.3 564.0,159.3 L560.0,158.4 Z" stroke-width="0.96" fill="#000" />
<path d="M524.6,152.7 L560.8,160.7 C562.8,160.9 562.8,163.5 560.8,163.5 L524.6,155.5 C522.6,155.3 522.6,152.7 524.6,152.7 Z" stroke-width="1.14" fill="#fff" />
<path d="M556.8,159.8 L560.8,160.7 C562.8,160.9 562.8,163.5 560.8,163.5 L556.8,162.6 Z" stroke-width="0.96" fill="#000" />
<path d="M521.4,156.9 L557.6,164.9 C559.6,165.1 559.6,167.7 557.6,167.7 L521.4,159.7 C519.4,159.5 519.4,156.9 521.4,156.9 Z" stroke-width="1.14" fill="#fff" />
<path d="M553.6,164.0 L557.6,164.9 C559.6,165.1 559.6,167.7 557.6,167.7 L553.6,166.8 Z" stroke-width="0.96" fill="#000" />
<path d="M583.7,146.0 L621.3,152.6 C623.3,152.8 623.3,155.4 621.3,155.4 L583.7,148.8 C581.7,148.6 581.7,146.0 583.7,146.0 Z" stroke-width="1.14" fill="#fff" />
<path d="M617.2,151.9 L621.3,152.6 C623.3,152.8 623.3,155.4 621.3,155.4 L617.2,154.7 Z" stroke-width="0.96" fill="#000" />
<path d="M580.5,150.4 L618.1,157.0 C620.1,157.2 620.1,159.8 618.1,159.8 L580.5,153.2 C578.5,153.0 578.5,150.4 580.5,150.4 Z" stroke-width="1.14" fill="#fff" />
<path d="M614.0,156.2 L618.1,157.0 C620.1,157.2 620.1,159.8 618.1,159.8 L614.0,159.0 Z" stroke-width="0.96" fill="#000" />
<path d="M577.3,154.7 L614.9,161.3 C616.9,161.5 616.9,164.1 614.9,164.1 L577.3,157.5 C575.3,157.3 575.3,154.7 577.3,154.7 Z" stroke-width="1.14" fill="#fff" />
<path d="M610.8,160.6 L614.9,161.3 C616.9,161.5 616.9,164.1 614.9,164.1 L610.8,163.4 Z" stroke-width="0.96" fill="#000" />
<path d="M574.2,159.1 L611.8,165.7 C613.8,165.9 613.8,168.5 611.8,168.5 L574.2,161.9 C572.2,161.7 572.2,159.1 574.2,159.1 Z" stroke-width="1.14" fill="#fff" />
<path d="M607.6,165.0 L611.8,165.7 C613.8,165.9 613.8,168.5 611.8,168.5 L607.6,167.8 Z" stroke-width="0.96" fill="#000" />
<path d="M571.0,163.4 L608.6,170.0 C610.6,170.2 610.6,172.8 608.6,172.8 L571.0,166.2 C569.0,166.0 569.0,163.4 571.0,163.4 Z" stroke-width="1.14" fill="#fff" />
<path d="M604.4,169.3 L608.6,170.0 C610.6,170.2 610.6,172.8 608.6,172.8 L604.4,172.1 Z" stroke-width="0.96" fill="#000" />
<path d="M567.8,167.8 L605.4,174.4 C607.4,174.6 607.4,177.2 605.4,177.2 L567.8,170.6 C565.8,170.4 565.8,167.8 567.8,167.8 Z" stroke-width="1.14" fill="#fff" />
<path d="M601.3,173.7 L605.4,174.4 C607.4,174.6 607.4,177.2 605.4,177.2 L601.3,176.5 Z" stroke-width="0.96" fill="#000" />
<path d="M663.7,156.2 L702.9,158.5 C704.9,158.7 704.9,161.3 702.9,161.3 L663.7,159.0 C661.7,158.8 661.7,156.2 663.7,156.2 Z" stroke-width="1.14" fill="#fff" />
<path d="M698.6,158.2 L702.9,158.5 C704.9,158.7 704.9,161.3 702.9,161.3 L698.6,161.0 Z" stroke-width="0.96" fill="#000" />
<path d="M660.4,160.9 L699.6,163.2 C701.6,163.4 701.6,166.0 699.6,166.0 L660.4,163.7 C658.4,163.5 658.4,160.9 660.4,160.9 Z" stroke-width="1.14" fill="#fff" />
<path d="M695.3,162.9 L699.6,163.2 C701.6,163.4 701.6,166.0 699.6,166.0 L695.3,165.7 Z" stroke-width="0.96" fill="#000" />
<path d="M657.1,165.5 L696.3,167.8 C698.3,168.0 698.3,170.6 696.3,170.6 L657.1,168.3 C655.1,168.1 655.1,165.5 657.1,165.5 Z" stroke-width="1.14" fill="#fff" />
<path d="M692.0,167.6 L696.3,167.8 C698.3,168.0 698.3,170.6 696.3,170.6 L692.0,170.4 Z" stroke-width="0.96" fill="#000" />
<path d="M653.8,170.2 L693.0,172.5 C695.0,172.7 695.0,175.3 693.0,175.3 L653.8,173.0 C651.8,172.8 651.8,170.2 653.8,170.2 Z" stroke-width="1.14" fill="#fff" />
<path d="M688.7,172.2 L693.0,172.5 C695.0,172.7 695.0,175.3 693.0,175.3 L688.7,175.0 Z" stroke-width="0.96" fill="#000" />
<path d="M650.5,174.8 L689.7,177.1 C691.7,177.3 691.7,179.9 689.7,179.9 L650.5,177.6 C648.5,177.4 648.5,174.8 650.5,174.8 Z" stroke-width="1.14" fill="#fff" />
<path d="M685.4,176.9 L689.7,177.1 C691.7,177.3 691.7,179.9 689.7,179.9 L685.4,179.7 Z" stroke-width="0.96" fill="#000" />
<path d="M647.2,179.5 L686.4,181.8 C688.4,182.0 688.4,184.6 686.4,184.6 L647.2,182.3 C645.2,182.1 645.2,179.5 647.2,179.5 Z" stroke-width="1.14" fill="#fff" />
<path d="M682.1,181.5 L686.4,181.8 C688.4,182.0 688.4,184.6 686.4,184.6 L682.1,184.3 Z" stroke-width="0.96" fill="#000" />
<polygon points="565.0,141.0 575.0,143.5 576.0,150.0 566.0,149.0" stroke-width="0.6" fill="#000" />
<path d="M632,163 C632,160 636,159.5 639,160.5 C642,159.5 646,160 645.5,163 C645,166 641,167 638.5,166 C636,167 632,166 632,163 Z" stroke-width="1.2" fill="none" />
<line x1="637.0" y1="161.0" x2="637.5" y2="165.5" stroke-width="0.96" />
<line x1="640.5" y1="161.0" x2="640.0" y2="165.5" stroke-width="0.96" />
<path d="M648,96 L648,88 C648.5,85 651,83.5 655,83 C657,81 660,80.8 662,82 C665,83.5 669,83.5 672.5,85 L673,87 L669,89.5 L669.5,97" stroke-width="1.72" fill="#fff" />
<circle cx="659.5" cy="83.8" r="1.8" stroke-width="0.8" fill="#fff"/>
<path d="M633.3,96 C633,94.5 634,93.5 636,93.2 L670.5,97 L671,100 L662,101.5 L636,98.5 C634.5,98 633.5,97.5 633.3,96 Z" stroke-width="1.87" fill="#fff" />
<line x1="637.0" y1="96.0" x2="660.0" y2="99.0" stroke-width="1.87" />
<path d="M637,99 C636,104 636.5,112 640,119 C641.5,122 643,124 646,124.5 L650,124 C648,118 646,110 646,100" stroke-width="1.72" fill="#fff" />
<path d="M646,100 C645.5,108 647,116 650,123 L654,126 C652,118 651,110 652,101" stroke-width="1.56" fill="#fff" />
<path d="M652,101 C651.5,110 653,120 656,125 C658,127.5 661,128 664,126.5 C666.5,124 667,118 667.5,110 L669.5,98" stroke-width="1.72" fill="#fff" />
<path d="M655,102 C654.5,110 656,118 658,122" stroke-width="1.25" fill="none" />
<line x1="667.0" y1="104.0" x2="668.0" y2="120.0" stroke-width="0.94" />
<path d="M642.8,310.2 C643,308 644.5,306.6 646.5,306.4 C649,306.3 650.5,307.6 651.6,308.2 L658,309.4 C660.5,310 662,311.5 662.5,313.5 L663,330 L665.2,333.4 L664,334.5 L656.4,335.8 L643.6,330.5 L647.2,326.6 C645,322 643,318 642.4,314.2 Z" stroke-width="1.87" fill="#fff" />
<line x1="642.8" y1="312.2" x2="654.8" y2="315.0" stroke-width="1.56" />
<path d="M654.8,315 C656,311.5 659,311.5 661,313.5" stroke-width="1.4" fill="none" />
<path d="M654.8,315 C656,320 657,324 657.2,326.5" stroke-width="1.4" fill="none" />
<line x1="647.2" y1="326.6" x2="657.2" y2="326.5" stroke-width="1.56" />
<line x1="658.0" y1="317.0" x2="659.5" y2="331.0" stroke-width="2.18" />
<line x1="661.0" y1="317.0" x2="662.0" y2="331.0" stroke-width="0.94" />
<path d="M547.5,290 C548.5,288 551,287.3 553.5,287.6 C556,288.5 557.2,291 557,293.5 C556.8,296.5 555,298.6 552,298.8 C549.5,298.8 547.3,297.3 546.9,295 C546.6,293 546.8,291.3 547.5,290 Z" stroke-width="1.8" fill="#fff" />
<line x1="549.0" y1="290.0" x2="552.0" y2="297.0" stroke-width="0.9" />
<line x1="553.0" y1="288.5" x2="555.0" y2="296.0" stroke-width="0.9" />
<path d="M556.5,289.6 L574,282.8 L576.3,283.6 L575,285.5 L557.5,295" stroke-width="1.5" fill="#fff" />
<path d="M559.0,288.0 C560.0,289.3 560.0,291.3 559.3,292.6" stroke-width="1.34" fill="none" />
<path d="M562.0,286.8 C563.0,288.1 563.0,290.1 562.3,291.4" stroke-width="1.34" fill="none" />
<path d="M565.0,285.6 C566.0,286.9 566.0,288.9 565.3,290.2" stroke-width="1.34" fill="none" />
<path d="M568.0,284.4 C569.0,285.7 569.0,287.7 568.3,289.0" stroke-width="1.34" fill="none" />
<path d="M571.0,283.2 C572.0,284.5 572.0,286.5 571.3,287.8" stroke-width="1.34" fill="none" />
<path d="M574.0,282.0 C575.0,283.3 575.0,285.3 574.3,286.6" stroke-width="1.34" fill="none" />
<line x1="580.6" y1="282.7" x2="593.2" y2="277.9" stroke-width="1.34" />
<path d="M592.5,270 C592,267.5 594,266 597,266 C600,265.5 603,266.5 606,267.5 C610,267 614.5,268.5 616,271.5 C617,275 615.5,278.5 612.5,280 C611,282 609,283.6 606,283.3 C602,283 598,282 595.5,280.5 C593.5,278 592.8,274 592.5,270 Z" stroke-width="1.8" fill="#fff" />
<path d="M606,267.5 C609.5,269.5 611,273.5 610.5,277 C610,279.5 609.5,281.5 607,283" stroke-width="1.34" fill="none" />
<path d="M595,272.5 C598,271 603,272 606,274.5 C608,277 607,280 604,281 C600,281.5 596.5,279 595,276.5 Z" stroke-width="1.2" fill="#111" />
<line x1="596.8" y1="264.0" x2="596.8" y2="266.5" stroke-width="1.2" />
</svg>
</body></html>
